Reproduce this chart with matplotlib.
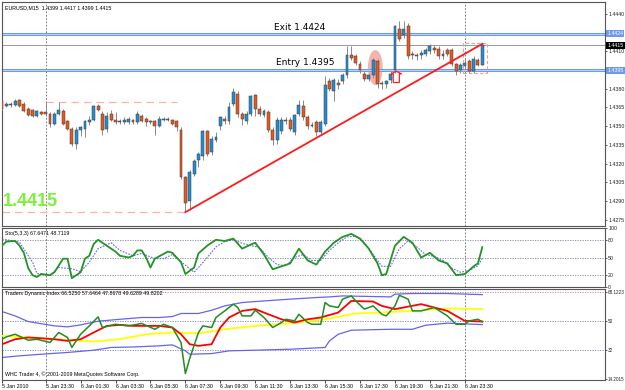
import matplotlib
matplotlib.use("Agg")
import matplotlib.pyplot as plt
from matplotlib.patches import Rectangle, Ellipse, Polygon

# EURUSD M15 candles, one per bar (bar 0 = 5 Jan 21:00)
opens = [1.4370, 1.4366, 1.4367, 1.4367, 1.4371, 1.4368, 1.4364, 1.4363, 1.4358, 1.4361,
         1.4361, 1.4360, 1.4352, 1.4360, 1.4362, 1.4354, 1.4348, 1.4336, 1.4347, 1.4348,
         1.4353, 1.4355, 1.4366, 1.4360, 1.4348, 1.4360, 1.4355, 1.4353, 1.4353, 1.4353,
         1.4355, 1.4353, 1.4358, 1.4356, 1.4354, 1.4354, 1.4350, 1.4355, 1.4356, 1.4355,
         1.4354, 1.4347, 1.4309, 1.4290, 1.4312, 1.4323, 1.4326, 1.4346, 1.4329, 1.4339,
         1.4350, 1.4356, 1.4354, 1.4368, 1.4376, 1.4360, 1.4354, 1.4360, 1.4375, 1.4364,
         1.4359, 1.4361, 1.4347, 1.4339, 1.4346, 1.4354, 1.4355, 1.4345, 1.4360, 1.4366,
         1.4357, 1.4350, 1.4353, 1.4345, 1.4352, 1.4386, 1.4378, 1.4385, 1.4386, 1.4391,
         1.4407, 1.4406, 1.4400, 1.4392, 1.4388, 1.4391, 1.4402, 1.4385, 1.4384, 1.4387,
         1.4395, 1.4428, 1.4423, 1.4430, 1.4408, 1.4407, 1.4407, 1.4408, 1.4410, 1.4413,
         1.4412, 1.4406, 1.4411, 1.4411, 1.4400, 1.4395, 1.4398, 1.4402, 1.4394, 1.4403,
         1.4399]
highs = [1.4371, 1.4369, 1.4369, 1.4372, 1.4372, 1.4369, 1.4365, 1.4364, 1.4363, 1.4362,
         1.4369, 1.4361, 1.4361, 1.4369, 1.4364, 1.4355, 1.4349, 1.4349, 1.4350, 1.4355,
         1.4358, 1.4367, 1.4368, 1.4362, 1.4361, 1.4363, 1.4361, 1.4356, 1.4357, 1.4357,
         1.4356, 1.4362, 1.4360, 1.4357, 1.4355, 1.4355, 1.4358, 1.4357, 1.4357, 1.4356,
         1.4355, 1.4349, 1.4310, 1.4315, 1.4324, 1.4329, 1.4347, 1.4347, 1.4342, 1.4345,
         1.4358, 1.4358, 1.4369, 1.4381, 1.4378, 1.4361, 1.4362, 1.4375, 1.4376, 1.4366,
         1.4364, 1.4363, 1.4349, 1.4357, 1.4357, 1.4357, 1.4357, 1.4360, 1.4371, 1.4371,
         1.4359, 1.4353, 1.4355, 1.4355, 1.4390, 1.4389, 1.4389, 1.4388, 1.4393, 1.4414,
         1.4414, 1.4408, 1.4402, 1.4394, 1.4393, 1.4405, 1.4404, 1.4386, 1.4387, 1.4394,
         1.4431, 1.4434, 1.4434, 1.4433, 1.4410, 1.4409, 1.4411, 1.4413, 1.4416, 1.4415,
         1.4414, 1.4411, 1.4413, 1.4413, 1.4401, 1.4401, 1.4405, 1.4404, 1.4406, 1.4405,
         1.4417]
lows = [1.4363, 1.4365, 1.4365, 1.4366, 1.4365, 1.4361, 1.4358, 1.4357, 1.4357, 1.4359,
        1.4359, 1.4349, 1.4351, 1.4359, 1.4351, 1.4347, 1.4334, 1.4332, 1.4342, 1.4341,
        1.4351, 1.4354, 1.4362, 1.4343, 1.4345, 1.4354, 1.4352, 1.4352, 1.4352, 1.4352,
        1.4352, 1.4352, 1.4353, 1.4350, 1.4352, 1.4343, 1.4349, 1.4354, 1.4354, 1.4351,
        1.4346, 1.4308, 1.4281, 1.4283, 1.4310, 1.4317, 1.4323, 1.4326, 1.4327, 1.4337,
        1.4347, 1.4352, 1.4352, 1.4366, 1.4357, 1.4351, 1.4352, 1.4358, 1.4358, 1.4358,
        1.4357, 1.4345, 1.4335, 1.4336, 1.4344, 1.4352, 1.4346, 1.4343, 1.4358, 1.4355,
        1.4348, 1.4349, 1.4342, 1.4343, 1.4350, 1.4378, 1.4370, 1.4380, 1.4384, 1.4389,
        1.4403, 1.4399, 1.4393, 1.4386, 1.4386, 1.4389, 1.4381, 1.4380, 1.4381, 1.4385,
        1.4393, 1.4418, 1.4421, 1.4404, 1.4404, 1.4403, 1.4404, 1.4406, 1.4408, 1.4409,
        1.4404, 1.4404, 1.4406, 1.4398, 1.4391, 1.4393, 1.4396, 1.4393, 1.4393, 1.4398,
        1.4399]
closes = [1.4364, 1.4368, 1.4368, 1.4370, 1.4366, 1.4362, 1.4359, 1.4358, 1.4362, 1.4360,
          1.4360, 1.4352, 1.4360, 1.4363, 1.4352, 1.4348, 1.4336, 1.4347, 1.4349, 1.4354,
          1.4355, 1.4366, 1.4363, 1.4347, 1.4358, 1.4355, 1.4353, 1.4354, 1.4355, 1.4356,
          1.4353, 1.4360, 1.4354, 1.4353, 1.4353, 1.4350, 1.4356, 1.4356, 1.4355, 1.4352,
          1.4349, 1.4309, 1.4288, 1.4313, 1.4322, 1.4328, 1.4346, 1.4328, 1.4340, 1.4341,
          1.4357, 1.4354, 1.4365, 1.4377, 1.4360, 1.4356, 1.4360, 1.4374, 1.4364, 1.4360,
          1.4362, 1.4347, 1.4339, 1.4355, 1.4355, 1.4355, 1.4348, 1.4359, 1.4367, 1.4357,
          1.4350, 1.4351, 1.4345, 1.4353, 1.4383, 1.4380, 1.4387, 1.4383, 1.4391, 1.4407,
          1.4405, 1.4401, 1.4395, 1.4388, 1.4391, 1.4403, 1.4384, 1.4384, 1.4386, 1.4392,
          1.4430, 1.4420, 1.4428, 1.4406, 1.4407, 1.4406, 1.4409, 1.4411, 1.4414, 1.4411,
          1.4406, 1.4408, 1.4408, 1.4400, 1.4394, 1.4399, 1.4401, 1.4394, 1.4404, 1.4399,
          1.4415]

# Stochastic(5,3,3)
sto_bars = [0, 1, 3, 4, 5, 6, 7, 8, 9, 11, 12, 14, 15, 16, 18, 19, 20, 21, 22, 24,
            26, 27, 29, 30, 31, 32, 33, 34, 35, 38, 39, 41, 42, 44, 45, 47, 49, 51, 53, 55,
            57, 58, 60, 62, 64, 66, 68, 70, 72, 74, 76, 78, 80, 82, 84, 86, 87, 88, 90, 92,
            94, 96, 98, 100, 102, 104, 106, 108, 109, 110]
sto_main = [70, 77, 78, 70, 58, 32, 20, 17, 22, 20, 25, 48, 48, 15, 25, 48, 53, 73, 80, 70,
            60, 53, 50, 53, 62, 62, 50, 33, 48, 60, 58, 42, 22, 33, 57, 70, 80, 78, 82, 65,
            72, 75, 55, 30, 35, 40, 65, 45, 38, 60, 75, 85, 90, 82, 65, 40, 20, 22, 70, 85,
            75, 50, 58, 45, 40, 20, 22, 35, 40, 67.6]
sig_bars = [0, 2, 4, 7, 8, 11, 13, 16, 18, 20, 22, 25, 27, 30, 32, 35, 37, 39, 42, 44,
            45, 47, 49, 51, 53, 55, 57, 59, 61, 63, 65, 67, 69, 71, 73, 75, 77, 79, 81, 83,
            85, 87, 89, 91, 93, 95, 97, 99, 101, 103, 105, 107, 109, 110]
sto_sig = [81, 79, 76, 42, 23, 20, 33, 31, 26, 42, 65, 75, 62, 53, 57, 48, 48, 55, 37, 25,
           33, 50, 68, 77, 80, 74, 70, 67, 50, 38, 36, 50, 55, 45, 45, 62, 75, 85, 86, 75,
           55, 35, 35, 65, 78, 68, 55, 52, 45, 32, 25, 28, 36, 48.7]

# Traders Dynamic Index
rsi_bars = [0, 1, 3, 6, 8, 11, 13, 15, 16, 18, 20, 22, 23, 26, 29, 32, 35, 37, 39, 41,
            42, 43, 45, 46, 48, 49, 51, 53, 54, 55, 57, 58, 60, 62, 64, 65, 67, 68, 70, 71,
            73, 74, 75, 77, 78, 80, 81, 83, 85, 87, 88, 90, 91, 93, 94, 96, 99, 102, 104, 106,
            107, 109, 110]
rsi_line = [38.8, 40.3, 41.9, 38.2, 38.8, 36.8, 43, 39.9, 33.7, 41.9, 47.1, 52.7, 46.1, 48.1,
            47.1, 48.6, 45, 48.1, 46.1, 36.8, 17.5, 27, 43, 47.1, 46.1, 52.3, 56.4, 60.6,
            58.5, 53.3, 53.3, 56.8, 52.3, 46.1, 49.2, 51.2, 50.2, 54.3, 49.2, 48.1, 48.1,
            61.6, 59.5, 58.5, 63.7, 65.7, 62.6, 57.5, 59.5, 54.3, 53.3, 59.5, 66.1, 63.7,
            56.4, 56.4, 58.5, 53.3, 48.1, 48.1, 50.2, 51.2, 49.6]
sig_tdi_bars = [0, 3, 6, 9, 12, 15, 18, 21, 24, 27, 30, 33, 36, 39, 41, 43, 45, 48, 50, 52,
                55, 58, 61, 64, 67, 70, 73, 77, 80, 85, 87, 90, 96, 102, 106, 110]
tdi_signal = [35.7, 38.8, 39.9, 39.4, 38.8, 37.8, 38.8, 43, 47.1, 47.7, 47.1, 47.1, 47.1, 46.1,
              41.9, 35.7, 34.7, 35.7, 46.1, 52.3, 56.4, 57.5, 54.3, 51.2, 49.2, 51.2, 52.3,
              55.4, 62.6, 62.2, 59.5, 57.5, 60.6, 56.4, 50.2, 49.8]
base_bars = [0, 7, 15, 21, 27, 33, 39, 45, 51, 58, 66, 74, 81, 87, 94, 102, 110]
market_base = [40.9, 39.9, 38.2, 37.4, 38.8, 41.9, 43, 42.5, 45, 47.1, 48.6, 51.2, 54.8,
               55.4, 56.4, 57.9, 57.6]
up_bars = [0, 3, 6, 12, 15, 18, 22, 27, 32, 36, 39, 41, 45, 48, 51, 55, 60, 66, 72, 75,
           78, 89, 90, 94, 102, 110]
band_up = [56, 53.3, 49.8, 47.1, 46.5, 47.7, 50, 51.2, 52.3, 52.3, 52.9, 54.8, 54.8, 56.8,
           59.5, 61.6, 62.6, 63.7, 64.7, 65.1, 65.7, 65.1, 66.8, 67.2, 67.2, 66.5]
lo_bars = [0, 4, 9, 15, 21, 25, 30, 36, 39, 42, 43, 48, 52, 58, 66, 74, 75, 77, 80, 89,
           94, 97, 102, 110]
band_lo = [27.5, 28.5, 29.5, 30.6, 32, 33.7, 34, 34.7, 35.3, 31.6, 29.5, 29.9, 31.6, 32,
           32.6, 33.7, 37.8, 41.9, 44.4, 45, 45, 47.5, 48.8, 47.9]

time_bars = [0, 10, 18, 26, 34, 42, 50, 58, 66, 74, 82, 90, 98, 106]
time_labels = ["5 Jan 2010", "5 Jan 23:30", "6 Jan 01:30", "6 Jan 03:30", "6 Jan 05:30",
               "6 Jan 07:30", "6 Jan 09:30", "6 Jan 11:30", "6 Jan 13:30", "6 Jan 15:30",
               "6 Jan 17:30", "6 Jan 19:30", "6 Jan 21:30", "6 Jan 23:30"]
price_ticks = [1.4275, 1.4290, 1.4305, 1.4320, 1.4335, 1.4350, 1.4365, 1.4380, 1.4410, 1.4440]

entry, exit_, last = 1.4395, 1.4424, 1.4415
separators = [10, 106]

bull, bear = "#1f8fd2", "#e8571d"
fs = 3.8
small = dict(family="Liberation Sans", size=fs)

fig = plt.figure(figsize=(6.25, 3.9), dpi=100)


def box(top, bottom):
    return [2 / 625, 1 - bottom / 390, 603 / 625, (bottom - top) / 390]


ax = fig.add_axes(box(2, 226))
ax_st = fig.add_axes(box(228, 287), sharex=ax)
ax_td = fig.add_axes(box(289, 380), sharex=ax)

for a in (ax, ax_st, ax_td):
    a.set_facecolor("white")
    for s in a.spines.values():
        s.set_color("#555555")
        s.set_linewidth(0.8)
    a.yaxis.tick_right()
    a.tick_params(axis="y", length=1.5, width=0.5, pad=0.8, colors="#222222")
    a.tick_params(axis="x", bottom=False, labelbottom=False)
    for b in separators:
        a.axvline(b, color="#666666", lw=0.6, ls=(0, (2, 2)), zorder=1)

ax.set_xlim(0.1, 138.1)

# price panel
for i in range(len(closes)):
    o, h, l, c = opens[i], highs[i], lows[i], closes[i]
    ax.vlines(i, l, h, color="#8a8a8a", lw=0.7, zorder=3)
    ax.add_patch(Rectangle((i - 0.33, min(o, c)), 0.66, max(abs(c - o), 0.00003),
                           fc=bull if c >= o else bear, ec="#3c3c3c", lw=0.35, zorder=4))

ax.add_patch(Ellipse((85.5, 1.4397), 3.4, 0.0028, fc="#f4b4ae", ec="none", zorder=2))
ax.add_patch(Rectangle((105.6, 1.43927), 5.5, 0.0024, fc="none", ec="#f59b94",
                       lw=0.8, ls=(0, (3, 2)), zorder=5))
ax.add_patch(Polygon([(89.6, 1.4385), (89.6, 1.4392), (89.1, 1.4392), (90.3, 1.4394),
                      (91.5, 1.4392), (91.0, 1.4392), (91.0, 1.4385)],
                     closed=True, fc="none", ec="#ff2020", lw=0.9, zorder=5))

ax.hlines(1.4369, 10, 40, color="#ffb0a8", lw=0.9, ls=(0, (6, 4)), zorder=2)
ax.hlines(1.4281, 0, 42, color="#ffb0a8", lw=0.9, ls=(0, (6, 4)), zorder=2)

for lvl in (exit_, entry):
    ax.axhline(lvl, color="#6f9ae6", lw=2.2, zorder=2)
    ax.axhline(lvl, color="#dfe9fb", lw=0.5, zorder=2)
ax.axhline(last, color="#8a8a8a", lw=0.6, zorder=2)

ax.plot([42, 110], [1.4281, 1.4416], color="#ff1a1a", lw=1.3, zorder=6)

ax.text(62.2, 1.4429, "Exit 1.4424", fontsize=6.5, va="center", ha="left", zorder=7)
ax.text(62.7, 1.4401, "Entry 1.4395", fontsize=6.5, va="center", ha="left", zorder=7)
ax.text(0.2, 1.4283, "1.4415", fontsize=13, fontweight="bold", color="#7cf03c",
        family="Liberation Sans", va="bottom", ha="left", zorder=7)
ax.text(0.005, 0.985, "EURUSD,M15  1.4399 1.4417 1.4399 1.4415", transform=ax.transAxes,
        va="top", ha="left", **small)

ax.set_ylim(1.42699, 1.44496)
ax.set_yticks(price_ticks)
ax.set_yticklabels([f"{p:.4f}" for p in price_ticks], **small)
ytr = ax.get_yaxis_transform()
for lvl, bg in ((exit_, "#6f9ae6"), (entry, "#6f9ae6"), (last, "black")):
    ax.text(1.004, lvl, f"{lvl:.4f}", transform=ytr, color="white", va="center",
            ha="left", clip_on=False, **small,
            bbox=dict(boxstyle="square,pad=0.2", fc=bg, ec="none"))

# stochastic panel
ax_st.set_ylim(0, 100)
for lvl in (20, 50, 80):
    ax_st.axhline(lvl, color="#8080a8", lw=0.6, ls=(0, (1.5, 1.5)), zorder=1)
ax_st.plot(sto_bars, sto_main, color="#239323", lw=1.3, zorder=3)
ax_st.plot(sig_bars, sto_sig, color="#6565f0", lw=0.8, ls=(0, (1.5, 1.2)), zorder=2)
ax_st.set_yticks([0, 20, 50, 80, 100])
ax_st.set_yticklabels(["0", "20", "50", "80", "100"], **small)
ax_st.text(0.005, 0.95, "Sto(5,3,3) 67.6471 48.7119", transform=ax_st.transAxes,
           va="top", ha="left", **small)

# TDI panel
ax_td.set_ylim(13.5, 70)
for lvl, col in ((32, "#8080a8"), (50, "#8080a8"), (68, "#c08080")):
    ax_td.axhline(lvl, color=col, lw=0.6, ls=(0, (1.5, 1.5)), zorder=1)
ax_td.plot(up_bars, band_up, color="#6464ee", lw=0.9, zorder=2)
ax_td.plot(lo_bars, band_lo, color="#6464ee", lw=0.9, zorder=2)
ax_td.plot(base_bars, market_base, color="#ffff00", lw=1.3, zorder=3)
ax_td.plot(sig_tdi_bars, tdi_signal, color="#ff0000", lw=1.3, zorder=4)
ax_td.plot(rsi_bars, rsi_line, color="#228b22", lw=1.1, zorder=5)
ax_td.set_yticks([14.2015, 32, 50, 68.1223])
ax_td.set_yticklabels(["14.2015", "32", "50", "68.1223"], family="Liberation Sans",
                      size=3.3)
ax_td.tick_params(axis="y", pad=0.4)
ax_td.text(0.005, 0.975, "Traders Dynamic Index 66.5250 57.6464 47.8678 49.6289 49.8202",
           transform=ax_td.transAxes, va="top", ha="left", **small)
ax_td.text(0.005, 0.03, "WHC Trader 4, \u00a9 2001-2009 MetaQuotes Software Corp.",
           transform=ax_td.transAxes, va="bottom", ha="left", **small)

ax_td.tick_params(axis="x", bottom=True, labelbottom=True, length=2, width=0.5, pad=1)
ax_td.set_xticks(time_bars)
ax_td.set_xticklabels(time_labels, ha="left", **small)

fig.savefig("out.png", dpi=100, facecolor="white")
